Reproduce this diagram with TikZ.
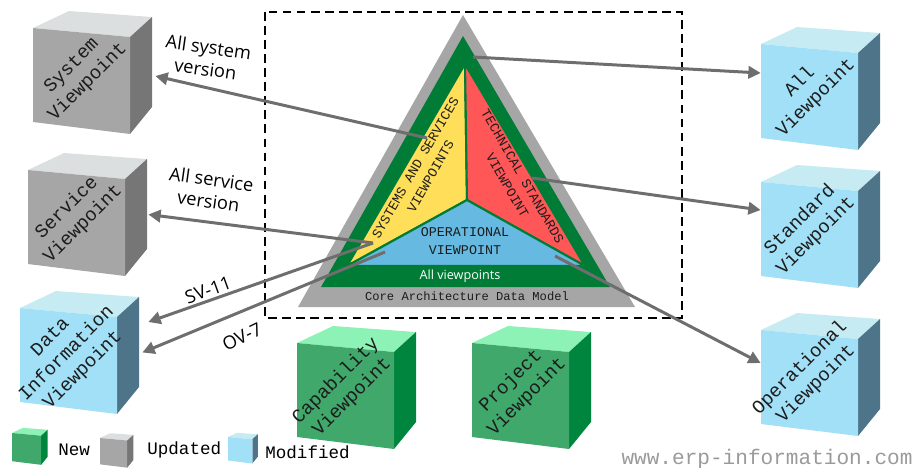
\documentclass[tikz,border=0pt]{standalone}
\usepackage{fontspec}
\setsansfont{Open Sans}
\setmonofont{Liberation Mono}
\usetikzlibrary{arrows.meta,calc}
\definecolor{updfront}{HTML}{A6A6A6}
\definecolor{updtop}{HTML}{DCDFE0}
\definecolor{updside}{HTML}{767676}
\definecolor{modfront}{HTML}{A1E0F7}
\definecolor{modtop}{HTML}{C7EBF3}
\definecolor{modside}{HTML}{4D7489}
\definecolor{newfront}{HTML}{40A86B}
\definecolor{newtop}{HTML}{8CF2B6}
\definecolor{newside}{HTML}{00853E}
\definecolor{cadmgray}{HTML}{A6A6A6}
\definecolor{allgreen}{HTML}{007C36}
\definecolor{sysyellow}{HTML}{FFDE59}
\definecolor{stdred}{HTML}{FF5757}
\definecolor{opblue}{HTML}{66B9E0}
\definecolor{arrowgray}{HTML}{6E6E6E}
\definecolor{inkdark}{HTML}{1C1C1C}
\definecolor{markgray}{HTML}{9A9A9A}

\newcommand{\cubefaces}[1]{%
  \fill[#1top] (0,0) -- (36,-17) -- (119,-11) -- (97,9) -- cycle;
  \fill[#1side] (97,9) -- (119,-11) -- (119,79) -- (97,106) -- cycle;
  \fill[#1front] (0,0) -- (97,9) -- (97,106) -- (0,94) -- cycle;}
\newcommand{\vpcube}[5]{%
  \begin{scope}[shift={(#2,#3)}]
    \cubefaces{#4}
    \node[cubebox] (#1) at (59.5,44.5) {};
    \node[cubetext] (#1txt) at (47,46) {#5};
  \end{scope}}

\begin{document}
\begin{tikzpicture}[x=0.02cm,y=-0.02cm,
    every node/.style={align=center,inner sep=0pt},
    cubebox/.style={minimum width=2.38cm,minimum height=2.46cm},
    cubetext/.style={font=\ttfamily\fontsize{10.8}{13}\selectfont,text=inkdark,rotate=45},
    tritext/.style={font=\ttfamily\fontsize{7.6}{10}\selectfont,text=inkdark},
    note/.style={font=\sffamily\fontsize{10.4}{12.5}\selectfont,text=black},
    legtext/.style={font=\ttfamily\fontsize{10}{12}\selectfont,text=black,anchor=west},
    link/.style={draw=arrowgray,line width=1.7pt,-{Triangle[length=7pt,width=7pt]}}]
  \useasboundingbox (0,0) rectangle (918,467);

  % core architecture data model
  \draw[line width=1.6pt,dash pattern=on 5pt off 3pt] (265,12) rectangle (682,318);
  \fill[cadmgray] (463,15) -- (635,307) -- (298,307) -- cycle;
  \fill[allgreen] (463,36) -- (610,287) -- (321,287) -- cycle;
  \coordinate (tA) at (465,64);
  \coordinate (tL) at (347,266);
  \coordinate (tR) at (585,266);
  \coordinate (tC) at (467,200);
  \filldraw[fill=sysyellow,draw=allgreen,line width=1.2pt] (tA) -- (tL) -- (tC) -- cycle;
  \filldraw[fill=stdred,draw=allgreen,line width=1.2pt] (tA) -- (tC) -- (tR) -- cycle;
  \filldraw[fill=opblue,draw=allgreen,line width=1.2pt] (tL) -- (tC) -- (tR) -- cycle;

  \node[tritext,rotate=60] (sysvp) at (423,172) {SYSTEMS AND SERVICES\\VIEWPOINTS};
  \node[tritext,rotate=-60] (stdvp) at (515,181) {TECHNICAL STANDARDS\\VIEWPOINT};
  \node[tritext] (opvp) at (465,241) {OPERATIONAL\\VIEWPOINT};
  \node[font=\sffamily\fontsize{7.2}{9}\selectfont,text=white] (allvp) at (460,276) {All viewpoints};
  \node[font=\ttfamily\fontsize{6.9}{8}\selectfont,text=inkdark] (cadm) at (467,296) {Core Architecture Data Model};

  % viewpoint cubes
  \vpcube{sysv}{33}{28}{upd}{System\\Viewpoint}
  \vpcube{srvv}{28}{170}{upd}{Service\\Viewpoint}
  \vpcube{datav}{20}{308}{mod}{Data\\Information\\Viewpoint}
  \vpcube{allv}{761}{44}{mod}{All\\Viewpoint}
  \vpcube{stdv}{761}{182}{mod}{Standard\\Viewpoint}
  \vpcube{opv}{761}{330}{mod}{Operational\\Viewpoint}
  \vpcube{capv}{297}{343}{new}{Capability\\Viewpoint}
  \vpcube{prjv}{472}{343}{new}{Project\\Viewpoint}

  % links
  \coordinate (gs) at (473,57);
  \coordinate (ys) at (427,138);
  \coordinate (rs) at (532,178);
  \coordinate (ls) at (373,243);
  \coordinate (os) at (385,252);
  \coordinate (bs) at (555,256);
  \draw[link] (ys) -- ($(sysv.east)+(3,3.5)$);
  \draw[link] (ls) -- ($(srvv.east)+(1,0)$);
  \draw[link] (ls) -- ($(datav.east)+(9,-30.5)$);
  \draw[link] (os) -- ($(datav.east)+(3,0)$);
  \draw[link] (gs) -- ($(allv.west)+(0,-15.5)$);
  \draw[link] (rs) -- ($(stdv.west)+(0,-16.5)$);
  \draw[link] (bs) -- ($(opv.west)+(0,-11.5)$);

  \node[note,rotate=-8] (sysl) at (207,58) {All system\\version};
  \node[note,rotate=-8] (srvl) at (210,190) {All service\\version};
  \node[note,rotate=20] (svl) at (208,290) {SV-11};
  \node[note,rotate=26] (ovl) at (242,337) {OV-7};

  % legend
  \begin{scope}[shift={(12,433)},scale=0.3]\cubefaces{new}\end{scope}
  \begin{scope}[shift={(100,438)},scale=0.28]\cubefaces{upd}\end{scope}
  \begin{scope}[shift={(228,437)},scale=0.25]\cubefaces{mod}\end{scope}
  \node[legtext] (lnew) at (58,450) {New};
  \node[legtext] (lupd) at (147,450) {Updated};
  \node[legtext] (lmod) at (265,452) {Modified};

  \node[font=\ttfamily\fontsize{12}{14}\selectfont,text=markgray] (www) at (767,459) {www.erp-information.com};
\end{tikzpicture}
\end{document}
